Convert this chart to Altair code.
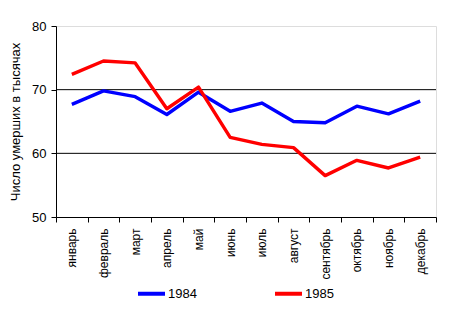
import altair as alt
import pandas as pd

months = ["январь", "февраль", "март", "апрель", "май", "июнь",
          "июль", "август", "сентябрь", "октябрь", "ноябрь", "декабрь"]
values_1984 = [67.7, 69.8, 68.9, 66.1, 69.6, 66.6, 67.9, 65.0, 64.8, 67.4, 66.2, 68.2]
values_1985 = [72.4, 74.5, 74.2, 67.0, 70.4, 62.5, 61.4, 60.9, 56.5, 58.9, 57.7, 59.4]
series = ["1984", "1985"]
colors = ["#0000FF", "#FF0000"]
gridlines = [60, 70]
y_ticks = [50, 60, 70, 80]

rows = []
for i, m in enumerate(months):
    rows.append({"month": m, "year": series[0], "value": values_1984[i]})
    rows.append({"month": m, "year": series[1], "value": values_1985[i]})
df = pd.DataFrame(rows)
grid_df = pd.DataFrame({"g": gridlines})

FONT = "Liberation Sans"

y_scale = alt.Scale(domain=[50, 80], nice=False, zero=False)
y_axis = alt.Axis(title="Число умерших в тысячах", values=y_ticks,
                  grid=False, labelFont=FONT, labelFontSize=13,
                  labelColor="black", tickColor="black", tickSize=5,
                  domainColor="black", labelPadding=5,
                  titleFont=FONT, titleFontSize=13, titleFontWeight="normal",
                  titleColor="black", titlePadding=9)

grid = alt.Chart(grid_df).mark_rule(color="black", strokeWidth=1).encode(
    y=alt.Y("g:Q", scale=y_scale, axis=y_axis)
)

lines = alt.Chart(df).mark_line(strokeWidth=3.4, strokeJoin="round").encode(
    x=alt.X("month:N", sort=months,
            scale=alt.Scale(type="band", paddingInner=0, paddingOuter=0),
            axis=alt.Axis(title=None, labelAngle=-90, tickBand="extent",
                          labelFont=FONT, labelFontSize=12, labelColor="black",
                          labelPadding=6, tickSize=5, tickColor="black",
                          domainColor="black", labelLimit=60)),
    y=alt.Y("value:Q", scale=y_scale, axis=y_axis),
    color=alt.Color("year:N", scale=alt.Scale(domain=series, range=colors),
                    legend=alt.Legend(title=None, orient="none", direction="horizontal",
                                      legendX=80, legendY=252,
                                      symbolType="stroke", symbolSize=729,
                                      symbolStrokeWidth=4, labelFont=FONT,
                                      labelFontSize=13, labelColor="black",
                                      labelOffset=1, columnPadding=70))
)

chart = alt.layer(grid, lines).properties(
    width=380, height=191,
    autosize=alt.AutoSizeParams(type="none"),
    padding={"left": 56, "top": 26, "right": 15, "bottom": 97},
).configure_view(stroke=None).configure(background="white")

chart.save("out.html", embed_options={"renderer": "svg", "actions": False})
